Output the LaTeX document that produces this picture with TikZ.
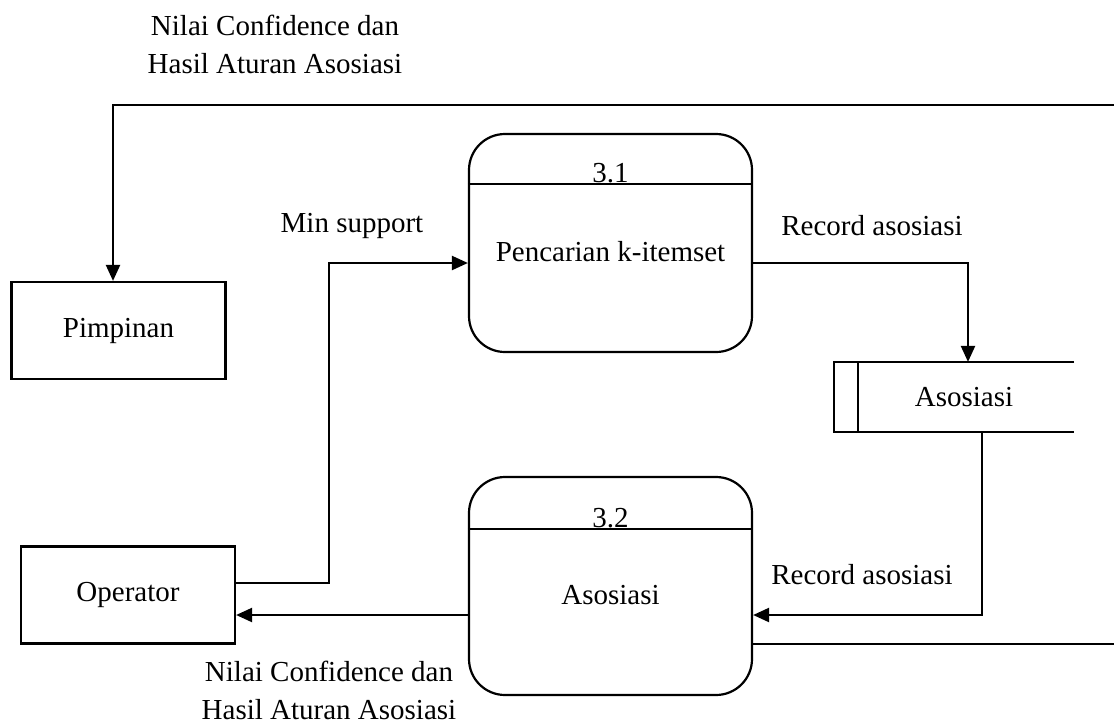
\documentclass[tikz,border=0pt]{standalone}
\usepackage{fontspec}
\setmainfont{Liberation Serif}
\usetikzlibrary{arrows.meta}

\begin{document}
\begin{tikzpicture}[x=0.5pt,y=-0.5pt,line width=1.1pt,
    every node/.style={font=\fontsize{14.5pt}{19pt}\selectfont},
    entity/.style={draw,minimum width=107pt,minimum height=48.5pt,inner sep=0pt},
    process/.style={draw,rounded corners=18pt,minimum width=141.5pt,minimum height=109pt,inner sep=0pt},
    flow/.style={-{Triangle[length=8pt,width=7pt]}},
    label/.style={align=center,inner sep=0pt}]
  \useasboundingbox (0,0) rectangle (1114,723);

  % External entities
  \node[entity] (pimpinan) at (118.5,330.5) {Pimpinan};
  \node[entity] (operator) at (128,595) {Operator};

  % Processes
  \node[process] (p31) at (610.5,243) {};
  \draw (p31.west |- 0,184) -- (p31.east |- 0,184);
  \node[anchor=base] (n31) at (610.5,182) {3.1};
  \node (t31) at (610.5,252) {Pencarian k-itemset};

  \node[process] (p32) at (610.5,586) {};
  \draw (p32.west |- 0,529) -- (p32.east |- 0,529);
  \node[anchor=base] (n32) at (610.5,527) {3.2};
  \node (t32) at (610.5,595) {Asosiasi};

  % Data store
  \node[minimum width=119pt,minimum height=34pt,inner sep=0pt] (store) at (954,397) {\hspace{10pt}Asosiasi};
  \draw (store.north east) -- (store.north west) -- (store.south west) -- (store.south east);
  \draw (858,363) -- (858,431);

  % Flows
  \coordinate (topR) at (1114,105);
  \coordinate (botR) at (1114,644);
  \draw[flow] (topR) -- ([xshift=-2.75pt]pimpinan.north |- topR) -- ([xshift=-2.75pt]pimpinan.north);
  \draw[flow] ([yshift=6pt]operator.east) -- (329,583) -- (329,263) -- ([yshift=-10pt]p31.west);
  \draw[flow] ([yshift=-10pt]p31.east) -- (968,263) -- ([xshift=7pt]store.north);
  \draw[flow] ([xshift=14pt]store.south) -- (982,615) -- ([yshift=-14.5pt]p32.east);
  \draw[flow] ([yshift=-14.5pt]p32.west) -- (operator.east |- 0,615);
  \draw ([yshift=-29pt]p32.east) -- (botR);

  % Flow labels
  \node[label] (lbltop) at (275,44) {Nilai Confidence dan\\Hasil Aturan Asosiasi};
  \node[label] (lblmin) at (352,226) {Min support};
  \node[label] (lblrec1) at (872,226) {Record asosiasi};
  \node[label] (lblrec2) at (862,575) {Record asosiasi};
  \node[label] (lblbot) at (329,690) {Nilai Confidence dan\\Hasil Aturan Asosiasi};
\end{tikzpicture}
\end{document}
